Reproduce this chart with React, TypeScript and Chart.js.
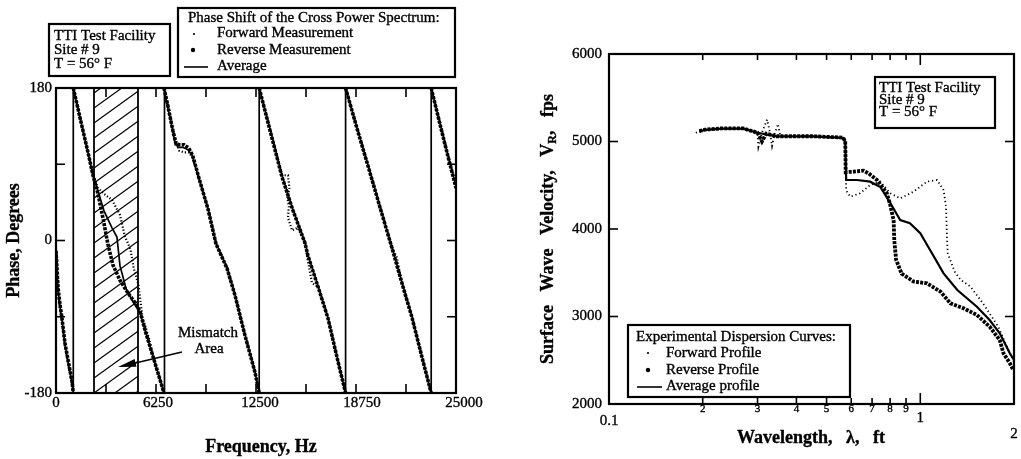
import React, { useEffect, useRef } from "react";
import { Chart, registerables } from "chart.js";
Chart.register(...registerables);

type P = [number, number];

// ---------- Left chart: phase shift of the cross power spectrum ----------
const freqLabels = [0, 6250, 12500, 18750, 25000];
const freqMinorTicks = [3125, 6250, 9375, 12500, 15625, 18750, 21875];
const phaseLabels = [180, 0, -180];
const phaseMinorTicks = [90, 0, -90];
const mismatchBandHz = [2375, 5125];

const forwardPhase: P[][] = [
  [[0, -18], [60, -40], [125, -60], [250, -80], [375, -96], [560, -125], [800, -150], [1000, -170], [1080, -180]],
  [[1080, 180], [1500, 145], [2000, 104], [2310, 78], [2625, 62], [3000, 55], [3500, 48], [4000, 30], [4300, 5], [4650, -10], [4850, -32], [5150, -52], [5400, -90], [5800, -115], [6200, -145], [6750, -180]],
  [[6750, 180], [7000, 160], [7300, 133], [7500, 118], [7700, 106], [8000, 104], [8300, 104], [8500, 99], [8900, 75], [9500, 38], [10000, -3], [10690, -32], [11190, -64], [11810, -111], [12440, -155], [12700, -180]],
  [[12700, 180], [13400, 130], [14125, 77], [14500, 77], [14600, 60], [14440, 54], [14550, 40], [14500, 27], [14750, 12], [15100, 15], [15560, -2], [15750, -25], [16000, -50], [16400, -55], [17000, -91], [17600, -140], [18100, -180]],
  [[18100, 180], [19500, 89], [21000, -8], [21300, -20], [21600, -48], [22250, -90], [22850, -135], [23450, -180]],
  [[23450, 180], [24000, 140], [24500, 102], [25000, 66]],
];

const reversePhase: P[][] = [
  [[0, -12], [60, -32], [125, -55], [250, -76], [375, -92], [560, -121], [800, -146], [1000, -166], [1080, -180]],
  [[1080, 180], [1500, 145], [2000, 104], [2310, 77], [2625, 55], [2950, 25], [3250, -5], [3560, -29], [4000, -47], [4500, -62], [5000, -75], [5250, -84], [5600, -108], [6000, -133], [6400, -158], [6750, -180]],
  [[6750, 180], [7000, 158], [7300, 130], [7500, 114], [7700, 113], [8000, 113], [8300, 109], [8550, 100], [8900, 76], [9500, 37], [10000, -4], [10690, -33], [11190, -65], [11810, -112], [12440, -156], [12700, -180]],
  [[12700, 180], [13400, 128], [14125, 75], [14800, 36], [15560, -3], [15750, -18], [16400, -56], [17000, -92], [17600, -141], [18100, -180]],
  [[18100, 180], [18800, 133], [19500, 88], [20250, 39], [21000, -9], [21600, -49], [22250, -91], [22850, -136], [23450, -180]],
  [[23450, 180], [24000, 137], [24500, 99], [25000, 62]],
];

const averagePhase: P[] = [
  [0, -15], [60, -35], [125, -58], [250, -78], [375, -94], [560, -123], [800, -148], [1000, -168], [1080, -180],
  [1080, 180], [1500, 145], [2000, 104], [2310, 77], [2625, 58], [3000, 35], [3500, 15], [3810, 4], [4000, -30], [4400, -58], [4800, -72], [5250, -85], [5600, -108], [6000, -133], [6400, -158], [6750, -180],
  [6750, 180], [6810, 175], [7125, 145], [7440, 116], [7625, 110], [7940, 110], [8250, 107], [8500, 101], [8875, 77], [9500, 38], [10000, -3], [10690, -32], [11190, -64], [11810, -111], [12440, -155], [12700, -180],
  [12700, 180], [13400, 130], [14125, 77], [14800, 37], [15560, -2], [15750, -17], [16400, -55], [17000, -91], [17600, -140], [18100, -180],
  [18100, 180], [18800, 134], [19500, 89], [20250, 40], [21000, -8], [21600, -48], [22250, -90], [22850, -135], [23450, -180],
  [23450, 180], [24000, 138], [24500, 100], [25000, 64],
];

// ---------- Right chart: experimental dispersion curves ----------
const velocityLabels = [6000, 5000, 4000, 3000, 2000];
const velocityMinorTicks = [5000, 4000, 3000];
const wavelengthMinor = [0.2, 0.3, 0.4, 0.5, 0.6, 0.7, 0.8, 0.9];
const wavelengthMinorLabels = ["2", "3", "4", "5", "6", "7", "8", "9"];

const forwardVelocity: P[] = [
  [0.19, 5100], [0.203, 5130], [0.23, 5145], [0.27, 5145], [0.3, 5100], [0.302, 4940], [0.31, 5100], [0.322, 5250], [0.33, 5080], [0.334, 4950], [0.34, 5080], [0.349, 5200], [0.355, 5060], [0.45, 5060], [0.565, 5040], [0.574, 5000],
  [0.578, 4440], [0.596, 4369], [0.641, 4408], [0.69, 4503], [0.744, 4541], [0.801, 4408], [0.862, 4350], [0.951, 4426], [1.05, 4541], [1.132, 4560], [1.188, 4445], [1.21, 4250], [1.218, 3900], [1.225, 3722], [1.29, 3512], [1.35, 3417], [1.45, 3341], [1.59, 3150], [1.78, 2884], [1.9, 2650], [2.0, 2480],
];

const reverseVelocity: P[] = [
  [0.195, 5120], [0.203, 5135], [0.23, 5150], [0.27, 5150], [0.3, 5100], [0.31, 5000], [0.32, 5090], [0.346, 5060], [0.45, 5060], [0.565, 5045], [0.574, 5000],
  [0.576, 4650], [0.611, 4655], [0.657, 4667], [0.682, 4636], [0.726, 4560], [0.781, 4408], [0.8, 4280], [0.821, 4100], [0.825, 3870], [0.836, 3650], [0.871, 3490], [0.951, 3400], [1.05, 3379], [1.162, 3284], [1.25, 3150], [1.38, 3093], [1.52, 3017], [1.67, 2884], [1.8, 2731], [1.85, 2579], [1.94, 2465], [1.99, 2388],
];

const averageVelocity: P[] = [
  [0.195, 5115], [0.203, 5132], [0.23, 5147], [0.27, 5147], [0.3, 5100], [0.346, 5058], [0.45, 5058], [0.565, 5042], [0.574, 5000],
  [0.578, 4560], [0.626, 4560], [0.69, 4541], [0.744, 4480], [0.8, 4300], [0.862, 4103], [0.926, 4065], [1.0, 3951], [1.075, 3760], [1.188, 3493], [1.315, 3303], [1.52, 3112], [1.67, 2960], [1.8, 2808], [1.94, 2579], [2.0, 2503],
];

const SERIF = '"Liberation Serif", "Times New Roman", serif';

function pts(list: P[]) {
  return list.map((p) => ({ x: p[0], y: p[1] }));
}
function segs(list: P[][]) {
  const out: { x: number; y: number | null }[] = [];
  list.forEach((s, i) => {
    if (i > 0) out.push({ x: s[0][0], y: null });
    s.forEach((p) => out.push({ x: p[0], y: p[1] }));
  });
  return out;
}

function text(ctx: CanvasRenderingContext2D, s: string, x: number, y: number, size: number, align: CanvasTextAlign = "left", bold = false) {
  ctx.font = `${bold ? "bold " : ""}${size}px ${SERIF}`;
  ctx.textAlign = align;
  ctx.textBaseline = "middle";
  ctx.fillText(s, x, y);
  const lw = ctx.lineWidth;
  ctx.lineWidth = 0.35;
  ctx.strokeText(s, x, y);
  ctx.lineWidth = lw;
}
function seg(ctx: CanvasRenderingContext2D, x1: number, y1: number, x2: number, y2: number) {
  ctx.beginPath();
  ctx.moveTo(x1, y1);
  ctx.lineTo(x2, y2);
  ctx.stroke();
}
function dot(ctx: CanvasRenderingContext2D, x: number, y: number, r: number) {
  ctx.beginPath();
  ctx.arc(x, y, r, 0, Math.PI * 2);
  ctx.fill();
}

const hatchPlugin = {
  id: "hatch",
  beforeDatasetsDraw(chart: any) {
    const { ctx, chartArea: a, scales } = chart;
    const x1 = scales.x.getPixelForValue(mismatchBandHz[0]);
    const x2 = scales.x.getPixelForValue(mismatchBandHz[1]);
    ctx.save();
    ctx.strokeStyle = "#000";
    ctx.lineWidth = 1.8;
    seg(ctx, x1, a.top, x1, a.bottom);
    seg(ctx, x2, a.top, x2, a.bottom);
    ctx.beginPath();
    ctx.rect(x1, a.top, x2 - x1, a.bottom - a.top);
    ctx.clip();
    ctx.lineWidth = 1.2;
    const w = x2 - x1;
    const rise = w * 0.72;
    for (let yy = a.top - 10; yy < a.bottom + rise + 20; yy += 15) {
      seg(ctx, x1, yy, x2, yy - rise);
    }
    ctx.restore();
  },
};

const leftDecor = {
  id: "leftDecor",
  afterDraw(chart: any) {
    const { ctx, chartArea: a, scales } = chart;
    const sx = scales.x, sy = scales.y;
    ctx.save();
    ctx.strokeStyle = "#000";
    ctx.fillStyle = "#000";
    ctx.lineWidth = 2.2;
    ctx.strokeRect(a.left, a.top, a.right - a.left, a.bottom - a.top);
    ctx.lineWidth = 1.6;
    freqMinorTicks.forEach((v) => {
      const px = sx.getPixelForValue(v);
      seg(ctx, px, a.bottom, px, a.bottom - 9);
      seg(ctx, px, a.top, px, a.top + 9);
    });
    phaseMinorTicks.forEach((v) => {
      const py = sy.getPixelForValue(v);
      seg(ctx, a.left, py, a.left + 9, py);
      seg(ctx, a.right, py, a.right - 9, py);
    });
    freqLabels.forEach((v) => text(ctx, String(v), sx.getPixelForValue(v) + (v / 25000) * 8, a.bottom + 10, 15, "center"));
    phaseLabels.forEach((v) => text(ctx, String(v), a.left - 4, sy.getPixelForValue(v), 15, "right"));
    text(ctx, "Frequency, Hz", 261, 447, 18, "center", true);
    ctx.save();
    ctx.translate(14, (a.top + a.bottom) / 2);
    ctx.rotate(-Math.PI / 2);
    text(ctx, "Phase, Degrees", 0, 0, 18, "center", true);
    ctx.restore();

    // site box
    ctx.lineWidth = 2.2;
    ctx.fillStyle = "#fff";
    ctx.fillRect(49, 24, 121, 52);
    ctx.strokeRect(49, 24, 121, 52);
    ctx.fillStyle = "#000";
    text(ctx, "TTI Test Facility", 54, 36, 15);
    text(ctx, "Site # 9", 54, 50, 15);
    text(ctx, "T = 56° F", 54, 64, 15);

    // legend box
    ctx.lineWidth = 2.2;
    ctx.fillStyle = "#fff";
    ctx.fillRect(178, 8, 277, 69);
    ctx.strokeRect(178, 8, 277, 69);
    ctx.fillStyle = "#000";
    text(ctx, "Phase Shift of the Cross Power Spectrum:", 188, 18, 15);
    dot(ctx, 194, 34, 1.1);
    text(ctx, "Forward Measurement", 217, 33.5, 15);
    dot(ctx, 193, 50, 2.2);
    text(ctx, "Reverse Measurement", 217, 50, 15);
    ctx.lineWidth = 1.6;
    seg(ctx, 184, 67, 208, 67);
    text(ctx, "Average", 217, 66, 15);

    // mismatch annotation
    text(ctx, "Mismatch", 208, 333, 15, "center");
    text(ctx, "Area", 209, 349, 15, "center");
    const tx = 182, ty = 352, hx = 118, hy = 367;
    ctx.lineWidth = 1.6;
    seg(ctx, tx, ty, hx + 10, hy - 2.3);
    const ang = Math.atan2(hy - ty, hx - tx);
    ctx.beginPath();
    ctx.moveTo(hx, hy);
    ctx.lineTo(hx - 18 * Math.cos(ang) + 4 * Math.sin(ang), hy - 18 * Math.sin(ang) - 4 * Math.cos(ang));
    ctx.lineTo(hx - 18 * Math.cos(ang) - 4 * Math.sin(ang), hy - 18 * Math.sin(ang) + 4 * Math.cos(ang));
    ctx.closePath();
    ctx.fill();
    ctx.restore();
  },
};

const OX = 510;
const rightDecor = {
  id: "rightDecor",
  afterDraw(chart: any) {
    const { ctx, chartArea: a, scales } = chart;
    const sx = scales.x, sy = scales.y;
    ctx.save();
    ctx.strokeStyle = "#000";
    ctx.fillStyle = "#000";
    ctx.lineWidth = 2.2;
    ctx.strokeRect(a.left, a.top, a.right - a.left, a.bottom - a.top);
    ctx.lineWidth = 1.6;
    wavelengthMinor.forEach((v, i) => {
      const px = sx.getPixelForValue(v);
      seg(ctx, px, a.top, px, a.top + 6);
      seg(ctx, px, a.bottom, px, a.bottom - 6);
      text(ctx, wavelengthMinorLabels[i], px, a.bottom + 5, 11, "center");
    });
    const p1 = sx.getPixelForValue(1);
    seg(ctx, p1, a.top, p1, a.top + 11);
    seg(ctx, p1, a.bottom, p1, a.bottom - 11);
    velocityMinorTicks.forEach((v) => {
      const py = sy.getPixelForValue(v);
      seg(ctx, a.left, py, a.left + 9, py);
      seg(ctx, a.right, py, a.right - 9, py);
    });
    velocityLabels.forEach((v) => text(ctx, String(v), a.left - 7, sy.getPixelForValue(v), 15, "right"));
    text(ctx, "0.1", sx.getPixelForValue(0.1), a.bottom + 17, 15, "center");
    text(ctx, "1", p1, a.bottom + 14, 15, "center");
    text(ctx, "2", sx.getPixelForValue(2), a.bottom + 30, 15, "center");
    text(ctx, "Wavelength,   λ,   ft", 811 - OX, 438, 18, "center", true);

    ctx.save();
    ctx.translate(548 - OX, (a.top + a.bottom) / 2);
    ctx.rotate(-Math.PI / 2);
    const t1 = "Surface   Wave   Velocity,   V", t2 = "R", t3 = ",   fps";
    ctx.font = `bold 18px ${SERIF}`;
    const w1 = ctx.measureText(t1).width, w3 = ctx.measureText(t3).width;
    ctx.font = `bold 12px ${SERIF}`;
    const w2 = ctx.measureText(t2).width;
    let px = -(w1 + w2 + w3) / 2;
    text(ctx, t1, px, 0, 18, "left", true);
    px += w1;
    text(ctx, t2, px, 5, 12, "left", true);
    px += w2;
    text(ctx, t3, px, 0, 18, "left", true);
    ctx.restore();

    // site box
    ctx.lineWidth = 2.2;
    ctx.fillStyle = "#fff";
    ctx.fillRect(875 - OX, 77, 120, 51);
    ctx.strokeRect(875 - OX, 77, 120, 51);
    ctx.fillStyle = "#000";
    text(ctx, "TTI Test Facility", 879 - OX, 88, 15);
    text(ctx, "Site # 9", 879 - OX, 100, 15);
    text(ctx, "T = 56° F", 879 - OX, 112.5, 15);

    // legend box
    ctx.lineWidth = 2.2;
    ctx.fillStyle = "#fff";
    ctx.fillRect(628 - OX, 325, 222, 72);
    ctx.strokeRect(628 - OX, 325, 222, 72);
    ctx.fillStyle = "#000";
    text(ctx, "Experimental Dispersion Curves:", 636 - OX, 337, 15);
    dot(ctx, 648 - OX, 353, 1.1);
    text(ctx, "Forward Profile", 666 - OX, 353, 15);
    dot(ctx, 648 - OX, 370, 2.2);
    text(ctx, "Reverse Profile", 666 - OX, 370, 15);
    ctx.lineWidth = 1.6;
    seg(ctx, 637 - OX, 387, 662 - OX, 387);
    text(ctx, "Average profile", 666 - OX, 386, 15);
    ctx.restore();
  },
};

function baseOptions(padding: any, xScale: any, yScale: any) {
  return {
    animation: false as const,
    responsive: false,
    maintainAspectRatio: false,
    events: [] as any[],
    layout: { padding },
    plugins: { legend: { display: false }, tooltip: { enabled: false } },
    scales: { x: xScale, y: yScale },
    elements: { point: { radius: 0 }, line: { tension: 0 } },
  };
}

export default function App() {
  const leftRef = useRef<HTMLCanvasElement>(null);
  const rightRef = useRef<HTMLCanvasElement>(null);

  useEffect(() => {
    const left = new Chart(leftRef.current!, {
      type: "line",
      data: {
        datasets: [
          { label: "Forward Measurement", data: segs(forwardPhase) as any, borderColor: "#000", borderWidth: 2.2, borderDash: [1.2, 2], pointRadius: 0, spanGaps: false, fill: false },
          { label: "Reverse Measurement", data: segs(reversePhase) as any, borderColor: "#000", borderWidth: 3.6, borderDash: [3, 1.2], pointRadius: 0, spanGaps: false, fill: false },
          { label: "Average", data: pts(averagePhase) as any, borderColor: "#000", borderWidth: 1.7, pointRadius: 0, fill: false },
        ],
      },
      options: baseOptions(
        { left: 56, right: 54, top: 88, bottom: 66 },
        { type: "linear", min: 0, max: 25000, display: false },
        { type: "linear", min: -180, max: 180, display: false }
      ) as any,
      plugins: [hatchPlugin, leftDecor],
    });

    const right = new Chart(rightRef.current!, {
      type: "line",
      data: {
        datasets: [
          { label: "Forward Profile", data: pts(forwardVelocity) as any, borderColor: "#000", borderWidth: 1.8, borderDash: [1.2, 2.8], pointRadius: 0, fill: false },
          { label: "Reverse Profile", data: pts(reverseVelocity) as any, borderColor: "#000", borderWidth: 3.8, borderDash: [3, 1.2], pointRadius: 0, fill: false },
          { label: "Average profile", data: pts(averageVelocity) as any, borderColor: "#000", borderWidth: 2.2, pointRadius: 0, fill: false },
        ],
      },
      options: baseOptions(
        { left: 99, right: 7, top: 54, bottom: 55 },
        { type: "logarithmic", min: 0.1, max: 2, display: false },
        { type: "linear", min: 2000, max: 6000, display: false }
      ) as any,
      plugins: [rightDecor],
    });

    return () => {
      left.destroy();
      right.destroy();
    };
  }, []);

  return (
    <div style={{ position: "fixed", left: 0, top: 0, width: 1021, height: 459, background: "#fff", overflow: "hidden" }}>
      <canvas ref={leftRef} width={510} height={459} style={{ position: "absolute", left: 0, top: 0, width: 510, height: 459 }} />
      <canvas ref={rightRef} width={511} height={459} style={{ position: "absolute", left: 510, top: 0, width: 511, height: 459 }} />
    </div>
  );
}
